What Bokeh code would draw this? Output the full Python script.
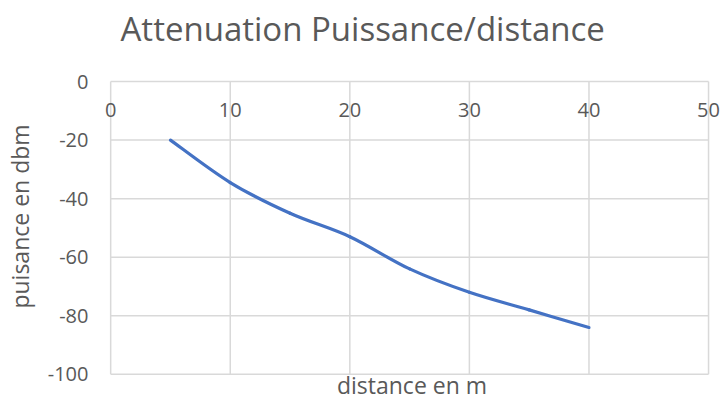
from bokeh.plotting import figure
from bokeh.models import Range1d, FixedTicker, Title, ColumnDataSource, Label
from bokeh.embed import file_html
from bokeh.resources import INLINE

# Data
distance_m = [5, 10, 15, 20, 25, 30, 35, 40]
puissance_dbm = [-20, -34.5, -45, -53, -64, -72, -78, -84]
x_ticks = [0, 10, 20, 30, 40, 50]
x_tick_labels = ["0", "10", "20", "30", "40", "50"]
y_ticks = [0, -20, -40, -60, -80, -100]
y_tick_labels = ["0", "-20", "-40", "-60", "-80", "-100"]

FONT = "Open Sans"
TXT = "#595959"
GRID = "#d9d9d9"
BLUE = "#4472C4"


def smooth_segments(xs, ys):
    """Excel-like smoothing: cubic Bezier controls from neighbouring points."""
    n = len(xs)
    out = dict(x0=[], y0=[], x1=[], y1=[], cx0=[], cy0=[], cx1=[], cy1=[])
    for i in range(n - 1):
        xp, yp = (xs[i - 1], ys[i - 1]) if i > 0 else (xs[i], ys[i])
        xn, yn = (xs[i + 2], ys[i + 2]) if i + 2 < n else (xs[i + 1], ys[i + 1])
        out["x0"].append(xs[i]); out["y0"].append(ys[i])
        out["x1"].append(xs[i + 1]); out["y1"].append(ys[i + 1])
        out["cx0"].append(xs[i] + (xs[i + 1] - xp) / 6.0)
        out["cy0"].append(ys[i] + (ys[i + 1] - yp) / 6.0)
        out["cx1"].append(xs[i + 1] - (xn - xs[i]) / 6.0)
        out["cy1"].append(ys[i + 1] - (yn - ys[i]) / 6.0)
    return out


p = figure(frame_width=617, frame_height=318, output_backend="svg",
           toolbar_location=None,
           x_range=Range1d(-0.6, 51.0), y_range=Range1d(-100.4, 8.2),
           min_border_left=0, min_border_right=0, min_border_top=0,
           min_border_bottom=0)
p.outline_line_color = None
p.grid.visible = False

p.title = Title(text="Attenuation Puissance/distance", align="left",
                vertical_align="top",
                text_font=FONT, text_font_size="33px", text_font_style="normal",
                text_color=TXT, offset=17, standoff=10)

# Gridlines (plot area box included), drawn from the tick positions
ny, nx = len(y_ticks), len(x_ticks)
p.segment(x0=[x_ticks[0]] * ny, x1=[x_ticks[-1]] * ny, y0=y_ticks, y1=y_ticks,
          line_color=GRID, line_width=1.5)
p.segment(x0=x_ticks, x1=x_ticks, y0=[y_ticks[-1]] * nx, y1=[y_ticks[0]] * nx,
          line_color=GRID, line_width=1.5)

# X tick labels where the x axis crosses y = 0 (top of the plot area)
for xv, lab in zip(x_ticks, x_tick_labels):
    p.add_layout(Label(x=xv, y=0, text=lab, text_font=FONT,
                       text_font_size="20px", text_color=TXT, text_align="center",
                       text_baseline="top", y_offset=-21))

# Bottom axis only carries the title
xa = p.below[0]
xa.ticker = FixedTicker(ticks=[])
xa.axis_line_color = None
xa.major_tick_line_color = None
xa.minor_tick_line_color = None
xa.major_tick_out = 0
xa.minor_tick_out = 0
xa.major_label_standoff = 0
xa.axis_label = "distance en m"
xa.axis_label_text_font = FONT
xa.axis_label_text_font_size = "23px"
xa.axis_label_text_font_style = "normal"
xa.axis_label_text_color = TXT
xa.axis_label_standoff = -7

ya = p.left[0]
ya.ticker = FixedTicker(ticks=y_ticks)
ya.major_label_overrides = {t: s for t, s in zip(y_ticks, y_tick_labels)}
ya.major_label_text_font = FONT
ya.major_label_text_font_size = "20px"
ya.major_label_text_color = TXT
ya.major_label_standoff = 9
ya.axis_line_color = None
ya.major_tick_line_color = None
ya.minor_tick_line_color = None
ya.axis_label = "puisance en dbm"
ya.axis_label_text_font = FONT
ya.axis_label_text_font_size = "23px"
ya.axis_label_text_font_style = "normal"
ya.axis_label_text_color = TXT
ya.axis_label_standoff = 9

segs = ColumnDataSource(smooth_segments(distance_m, puissance_dbm))
p.bezier(x0="x0", y0="y0", x1="x1", y1="y1", cx0="cx0", cy0="cy0",
         cx1="cx1", cy1="cy1", source=segs, line_color=BLUE, line_width=3.2,
         line_cap="round")

open("out.html", "w").write(file_html(p, INLINE))
